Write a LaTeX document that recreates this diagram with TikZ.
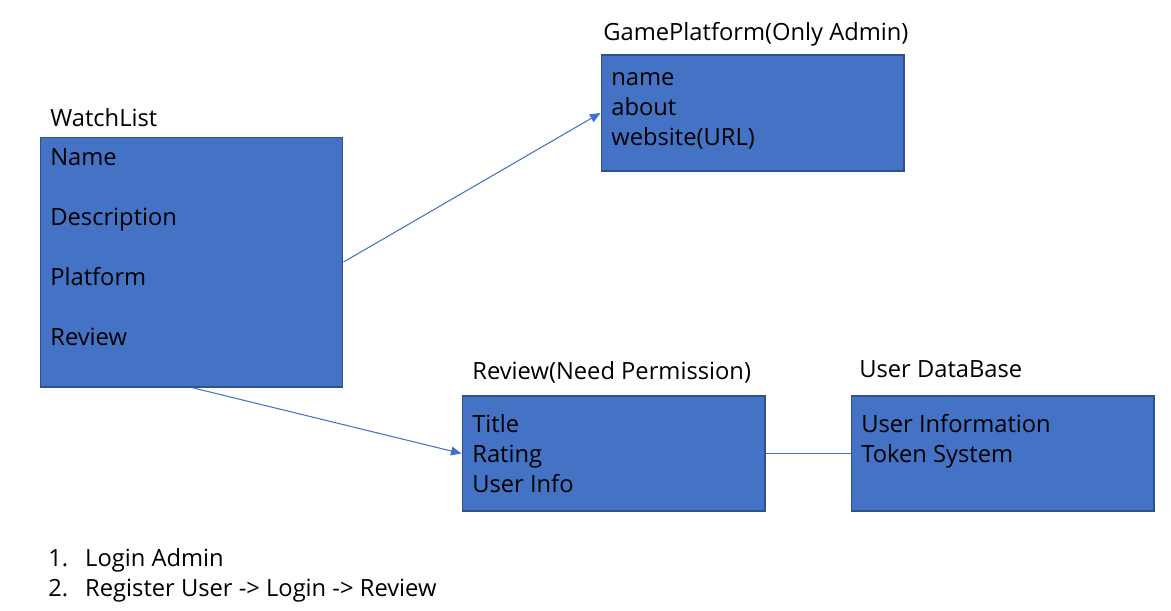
\documentclass[tikz,border=0pt]{standalone}
\usepackage{fontspec}
\setsansfont{Open Sans}
\usetikzlibrary{arrows.meta,positioning}
\definecolor{boxblue}{HTML}{4472C4}
\definecolor{boxedge}{HTML}{2F528F}

\begin{document}
\begin{tikzpicture}[
  x=0.02cm,y=-0.02cm,
  >={Triangle[length=6pt,width=5pt]},
  every node/.style={font=\sffamily\fontsize{13.5}{17}\selectfont,inner sep=0pt},
  table/.style={draw=boxedge,fill=boxblue,line width=0.6pt,minimum width=6.06cm},
  fields/.style={anchor=base west,align=left},
  title/.style={anchor=base west},
  link/.style={boxblue,line width=0.6pt}
]
  \useasboundingbox (0,0) rectangle (1171,610);
  % tables
  \node[table,minimum height=5cm] (watch) at (191.5,262) {};
  \node[table,minimum height=2.32cm] (platform) at (752.5,113) {};
  \node[table,minimum height=2.3cm] (review) at (613.5,453.5) {};
  \node[table,minimum height=2.3cm] (userdb) at (1002.5,453.5) {};
  % titles
  \node[title] (watchT) at (50,126) {WatchList};
  \node[title] (platformT) at (603,40) {GamePlatform(Only Admin)};
  \node[title] (reviewT) at (472,379) {Review(Need Permission)};
  \node[title] (userdbT) at (859,377) {User DataBase};
  % fields (anchored at the last line)
  \node[fields] (watchF) at (50,345) {Name\\[17pt]Description\\[17pt]Platform\\[17pt]Review};
  \node[fields] (platformF) at (611,145) {name\\about\\website(URL)};
  \node[fields] (reviewF) at (472,492) {Title\\Rating\\User Info};
  \node[fields] (userdbF) at (861,462) {User Information\\Token System};
  % links
  \draw[link,->] (watch.east) -- (platform.west);
  \draw[link,->] (watch.south) -- (review.west);
  \draw[link] (review.east) -- (userdb.west);
  % notes
  \node[anchor=base west,align=left] (steps) at (48,596)
    {\makebox[21pt][l]{1.}Login Admin\\\makebox[21pt][l]{2.}Register User -> Login -> Review};
\end{tikzpicture}
\end{document}
